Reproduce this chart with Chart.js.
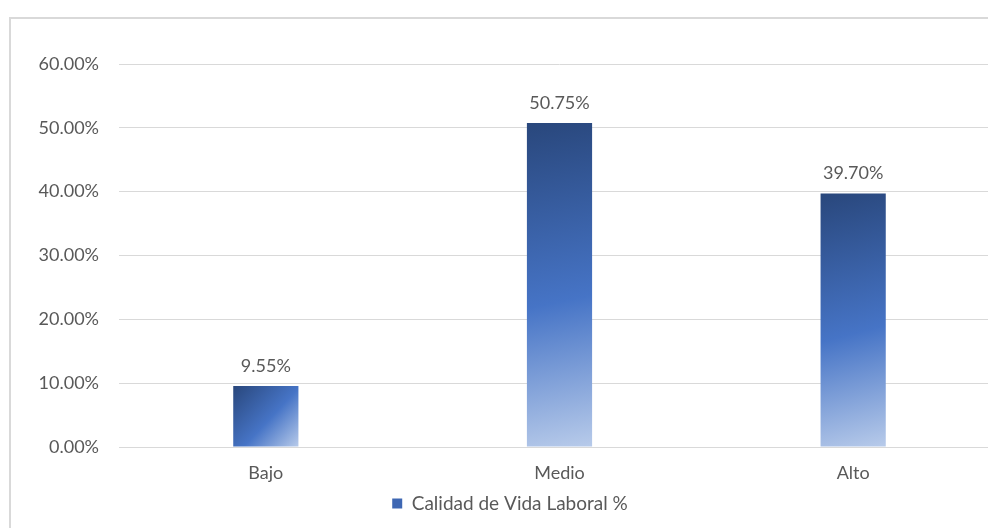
<!DOCTYPE html>
<html>
<head>
<meta charset="utf-8">
<script src="https://cdn.jsdelivr.net/npm/chart.js@4.4.1/dist/chart.umd.min.js"></script>
<style>
  html, body { margin: 0; padding: 0; background: #fff; overflow: hidden; width: 988px; height: 528px; }
  #frame { position: absolute; left: 9px; top: 17px; width: 1100px; height: 600px; border: 2px solid #d9d9d9; box-sizing: border-box; }
  #wrap { position: absolute; left: 0; top: 0; width: 1000px; height: 528px; }
</style>
</head>
<body>
<div id="frame"></div>
<div id="wrap"><canvas id="calidadChart"></canvas></div>
<script>
var categories = ["Bajo", "Medio", "Alto"];
var seriesValues = [9.55, 50.75, 39.70];
var seriesLabel = "Calidad de Vida Laboral %";
var yTicks = [0, 10, 20, 30, 40, 50, 60];

var textColor = "#595959";
var fontFamily = "Lato, 'Open Sans', sans-serif";

function barGradient(context) {
    var chart = context.chart;
    var xs = chart.scales.x, ys = chart.scales.y;
    if (!xs || !ys || context.dataIndex === undefined) return "#4472c4";
    var cx = xs.getPixelForValue(context.dataIndex);
    var half = 32.5;
    var top = ys.getPixelForValue(context.raw);
    var bottom = ys.getPixelForValue(0);
    var g = chart.ctx.createLinearGradient(cx - half, top, cx + half, bottom);
    g.addColorStop(0, "#29477c");
    g.addColorStop(0.55, "#4674c6");
    g.addColorStop(1, "#b8cbea");
    return g;
}

// value labels above bars
var dataLabels = {
    id: "dataLabels",
    afterDatasetsDraw: function(chart) {
        var ctx = chart.ctx;
        var meta = chart.getDatasetMeta(0);
        ctx.save();
        ctx.fillStyle = textColor;
        ctx.font = "18px " + fontFamily;
        ctx.textAlign = "center";
        ctx.textBaseline = "bottom";
        meta.data.forEach(function(bar, i) {
            ctx.fillText(seriesValues[i].toFixed(2) + "%", bar.x, bar.y - 11);
        });
        ctx.restore();
    }
};

document.addEventListener('DOMContentLoaded', function() {
    var ctx = document.getElementById("calidadChart").getContext("2d");
    var chart = new Chart(ctx, {
        type: "bar",
        data: {
            labels: categories,
            datasets: [{
                label: seriesLabel,
                data: seriesValues,
                backgroundColor: barGradient,
                borderWidth: 0,
                categoryPercentage: 1,
                barPercentage: 0.222
            }]
        },
        options: {
            responsive: true,
            maintainAspectRatio: false,
            animation: false,
            layout: { padding: { top: 64, right: 0, bottom: 5, left: 20 } },
            plugins: {
                tooltip: { enabled: false },
                legend: {
                    position: "bottom",
                    labels: {
                        color: textColor,
                        font: { family: fontFamily, size: 19 },
                        boxWidth: 10,
                        boxHeight: 10,
                        padding: 10,
                        generateLabels: function(c) {
                            return [{
                                text: seriesLabel,
                                fillStyle: "#3e67b3",
                                strokeStyle: "#3e67b3",
                                lineWidth: 0,
                                fontColor: textColor,
                                datasetIndex: 0
                            }];
                        }
                    }
                }
            },
            scales: {
                x: {
                    grid: { display: false, drawTicks: false },
                    border: { color: "#d9d9d9", width: 1 },
                    ticks: { color: textColor, font: { family: fontFamily, size: 18 }, padding: 15 },
                    afterFit: function(s) { s.height = 37; }
                },
                y: {
                    min: 0,
                    max: 60,
                    afterBuildTicks: function(s) { s.ticks = yTicks.map(function(v) { return { value: v }; }); },
                    grid: { color: "#d9d9d9", drawTicks: false, lineWidth: 1 },
                    border: { display: false },
                    ticks: {
                        color: textColor,
                        font: { family: fontFamily, size: 18 },
                        padding: 20,
                        callback: function(v) { return v.toFixed(2) + "%"; }
                    },
                    afterFit: function(s) { s.width = 99; }
                }
            }
        },
        plugins: [dataLabels]
    });
});
</script>
</body>
</html>
